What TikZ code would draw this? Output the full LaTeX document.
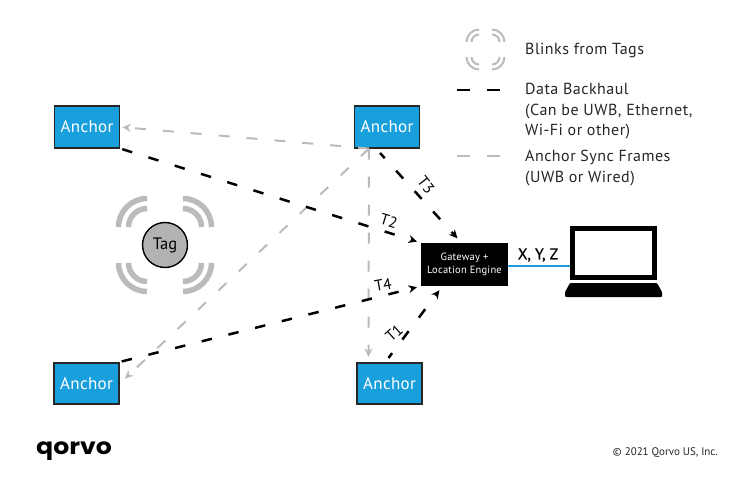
\documentclass[tikz,border=0pt]{standalone}
\usepackage{fontspec}
\setmainfont{PT Sans}
\newfontfamily\logofont{Poppins}
\newfontfamily\xyzfont[FakeBold=0.8]{PT Sans}
\newcommand{\spaced}[1]{\addfontfeatures{LetterSpace=#1}}
\usetikzlibrary{arrows.meta,calc}
\definecolor{qblue}{HTML}{1A9FDD}
\definecolor{qgray}{HTML}{BBBBBB}
\definecolor{qtext}{HTML}{262626}
\tikzset{
  anchorbox/.style={draw=black!85,line width=1.6pt,fill=qblue,text=white,minimum width=65pt,minimum height=41.5pt,inner sep=0pt,font=\fontsize{17}{18}\selectfont\spaced{2}},
  backhaul/.style={draw=black,line width=2.5pt,dash pattern=on 10.5pt off 17pt,-{Stealth[length=8.5pt,width=8pt]}},
  syncline/.style={draw=qgray,line width=2pt,dash pattern=on 11pt off 17pt,-{Stealth[length=8.5pt,width=8pt]}},
  tlabel/.style={font=\fontsize{15.5}{16}\selectfont,inner sep=0pt},
  legendtext/.style={anchor=west,inner sep=0pt,font=\fontsize{16}{20.7}\selectfont\spaced{3},text=qtext,align=left},
  bigarc/.style={draw=qgray,line width=5.5pt},
  smallarc/.style={draw=qgray,line width=2pt},
  legdash/.style={line width=2.6pt,dash pattern=on 13pt off 17pt}
}
\begin{document}
\begin{tikzpicture}[x=1pt,y=-1pt]
\useasboundingbox (0,0) rectangle (751,478);
% blink arcs around tag
\foreach \cx/\cy/\sx/\sy in {147/227/-1/-1,183/227/1/-1,147/263/-1/1,183/263/1/1}{
  \foreach \r in {18.5,28.5}{
    \draw[bigarc] (\cx+\sx*\r,\cy) .. controls (\cx+\sx*\r,\cy+\sy*0.55*\r) and (\cx+\sx*0.55*\r,\cy+\sy*\r) .. (\cx,\cy+\sy*\r);
  }
}
\foreach \cx/\cy/\sx/\sy in {479/42/-1/-1,492/42/1/-1,479/57/-1/1,492/57/1/1}{
  \foreach \r in {7.5,12.5}{
    \draw[smallarc] (\cx+\sx*\r,\cy) .. controls (\cx+\sx*\r,\cy+\sy*0.55*\r) and (\cx+\sx*0.55*\r,\cy+\sy*\r) .. (\cx,\cy+\sy*\r);
  }
}
% nodes
\node[anchorbox] (atl) at (87,127) {Anchor};
\node[anchorbox] (atm) at (387,127) {Anchor};
\node[anchorbox] (abl) at (86.5,383.5) {Anchor};
\node[anchorbox] (abm) at (389.5,383.5) {Anchor};
\node[circle,draw=black,line width=1.4pt,fill=black!30,minimum size=45pt,inner sep=0pt,font=\fontsize{16.5}{18}\selectfont] (tag) at (165,245) {Tag};
\node[fill=black,text=white,minimum width=87pt,minimum height=43pt,inner sep=0pt,align=center,font=\fontsize{10.5}{13.5}\selectfont\spaced{2}] (gw) at (464.5,264.5) {Gateway +\\Location Engine};
\node[draw=black,line width=5pt,fill=white,minimum width=82pt,minimum height=49pt,inner sep=0pt] (screen) at (613.5,253) {};
\fill[black,rounded corners=1pt] (565,297) -- (565,292) -- (570,283) -- (657,283) -- (662,292) -- (662,297) -- cycle;
% connectors
\draw[qblue,line width=2.5pt] (gw.east |- 0,266) -- (screen.west |- 0,266);
\draw[syncline,shorten >=2pt] ($(atm.south)+(-18,0)$) -- (atl.east);
\draw[syncline,shorten >=7pt] ($(atm.south)+(-18,0)$) -- (abl.east);
\draw[syncline,shorten >=5pt] ($(atm.south)+(-18,0)$) -- ($(abm.north)+(-21,0)$);
\draw[backhaul,shorten >=4pt,shorten <=2pt] (atl.south east) -- (gw.north west);
\draw[backhaul,shorten >=4pt,shorten <=2pt] (abl.north east) -- (gw.south west);
\draw[backhaul,dash pattern=on 7pt off 17pt on 10.5pt off 17pt on 10.5pt off 17pt on 10.5pt off 17pt on 10.5pt off 17pt,shorten >=6pt,shorten <=6pt] ($(atm.south)+(-11,0)$) -- ($(gw.north)+(-3,0)$);
\draw[backhaul,dash pattern=on 6pt off 17pt on 10.5pt off 17pt on 10.5pt off 17pt on 10.5pt off 17pt,shorten >=5pt,shorten <=5pt] ($(abm.north)+(-4,0)$) -- ($(gw.south)+(-22,0)$);
% labels
\node[tlabel,rotate=-17] (t2) at (389,221) {T2};
\node[tlabel,rotate=-52] (t3) at (426,185) {T3};
\node[tlabel,rotate=10] (t4) at (383,285) {T4};
\node[tlabel,rotate=42] (t1) at (394,333) {T1};
\node[inner sep=0pt,font=\xyzfont\fontsize{15.5}{17}\selectfont] (xyz) at (538,255) {X, Y, Z};
% legend
\node[legendtext] (l1) at (525,51) {Blinks from Tags};
\node[legendtext,anchor=north west] (l2) at (525,83) {Data Backhaul\\(Can be UWB, Ethernet,\\Wi-Fi or other)};
\node[legendtext,anchor=north west] (l3) at (525,150) {Anchor Sync Frames\\(UWB or Wired)};
\draw[legdash,draw=black] (457,90) -- (500,90);
\draw[legdash,draw=qgray] (457,156) -- (500,156);
% logo and copyright
\node[anchor=base west,inner sep=0pt,xscale=1.12,font=\logofont\bfseries\fontsize{22.5}{24}\selectfont] (logo) at (36,454) {qorvo};
\node[anchor=east,inner sep=0pt,font=\fontsize{11}{12}\selectfont,text=qtext] (copy) at (718,453) {© 2021 Qorvo US, Inc.};
\end{tikzpicture}
\end{document}
